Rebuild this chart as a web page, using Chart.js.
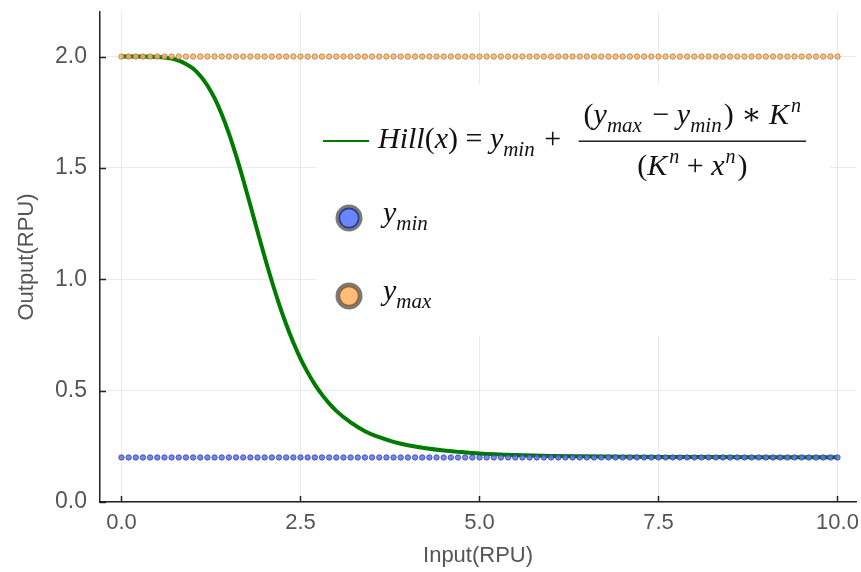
<!DOCTYPE html>
<html>
<head>
<meta charset="utf-8">
<script src="https://cdn.jsdelivr.net/npm/chart.js@4/dist/chart.umd.min.js"></script>
<style>
  html, body { margin: 0; padding: 0; background: #ffffff; }
  #wrap { width: 861px; height: 572px; }
</style>
</head>
<body>
<div id="wrap"><canvas id="c" width="861" height="572"></canvas></div>
<script>
// ---- data ----
const xDots = [0,0.1,0.2,0.3,0.4,0.5,0.6,0.7,0.8,0.9,1,1.1,1.2,1.3,1.4,1.5,1.6,1.7,1.8,1.9,2,2.1,2.2,2.3,2.4,2.5,2.6,2.7,2.8,2.9,3,3.1,3.2,3.3,3.4,3.5,3.6,3.7,3.8,3.9,4,4.1,4.2,4.3,4.4,4.5,4.6,4.7,4.8,4.9,5,5.1,5.2,5.3,5.4,5.5,5.6,5.7,5.8,5.9,6,6.1,6.2,6.3,6.4,6.5,6.6,6.7,6.8,6.9,7,7.1,7.2,7.3,7.4,7.5,7.6,7.7,7.8,7.9,8,8.1,8.2,8.3,8.4,8.5,8.6,8.7,8.8,8.9,9,9.1,9.2,9.3,9.4,9.5,9.6,9.7,9.8,9.9,10];
const yMinDots = [0.2,0.2,0.2,0.2,0.2,0.2,0.2,0.2,0.2,0.2,0.2,0.2,0.2,0.2,0.2,0.2,0.2,0.2,0.2,0.2,0.2,0.2,0.2,0.2,0.2,0.2,0.2,0.2,0.2,0.2,0.2,0.2,0.2,0.2,0.2,0.2,0.2,0.2,0.2,0.2,0.2,0.2,0.2,0.2,0.2,0.2,0.2,0.2,0.2,0.2,0.2,0.2,0.2,0.2,0.2,0.2,0.2,0.2,0.2,0.2,0.2,0.2,0.2,0.2,0.2,0.2,0.2,0.2,0.2,0.2,0.2,0.2,0.2,0.2,0.2,0.2,0.2,0.2,0.2,0.2,0.2,0.2,0.2,0.2,0.2,0.2,0.2,0.2,0.2,0.2,0.2,0.2,0.2,0.2,0.2,0.2,0.2,0.2,0.2,0.2,0.2];
const yMaxDots = [2,2,2,2,2,2,2,2,2,2,2,2,2,2,2,2,2,2,2,2,2,2,2,2,2,2,2,2,2,2,2,2,2,2,2,2,2,2,2,2,2,2,2,2,2,2,2,2,2,2,2,2,2,2,2,2,2,2,2,2,2,2,2,2,2,2,2,2,2,2,2,2,2,2,2,2,2,2,2,2,2,2,2,2,2,2,2,2,2,2,2,2,2,2,2,2,2,2,2,2,2];
const curveX = [0,0.1,0.2,0.3,0.4,0.5,0.6,0.7,0.8,0.9,1,1.1,1.2,1.3,1.4,1.5,1.6,1.7,1.8,1.9,2,2.1,2.2,2.3,2.4,2.5,2.6,2.7,2.8,2.9,3,3.2,3.4,3.6,3.8,4,4.25,4.5,4.75,5,5.5,6,7,8,9,10];
const curveY = [2.0,2.0,2.0,2.0,1.999,1.998,1.996,1.991,1.982,1.967,1.946,1.914,1.870,1.813,1.741,1.655,1.556,1.447,1.332,1.215,1.1,0.991,0.890,0.798,0.716,0.644,0.582,0.528,0.482,0.443,0.409,0.357,0.318,0.291,0.270,0.255,0.241,0.231,0.224,0.218,0.211,0.207,0.203,0.202,0.201,0.201];
const xTicks = [0, 2.5, 5, 7.5, 10];
const yTicks = [0, 0.5, 1.0, 1.5, 2.0];
const xTitle = "Input(RPU)";
const yTitle = "Output(RPU)";

// ---- styles ----
const GREEN = '#007a00';
const BLUE_FILL = 'rgba(96,118,240,0.85)';
const BLUE_EDGE = 'rgba(40,52,150,0.8)';
const ORANGE_FILL = 'rgba(250,182,105,0.85)';
const ORANGE_EDGE = 'rgba(170,110,50,0.8)';
const SERIF = '"Liberation Serif", "DejaVu Serif", serif';
const SANS = '"Liberation Sans", Arial, sans-serif';

function drawSeq(ctx, x, y, segs, measureOnly) {
  let cx = x;
  for (const s of segs) {
    const size = s.size || 30;
    ctx.font = (s.i ? 'italic ' : '') + size + 'px ' + SERIF;
    const w = ctx.measureText(s.t).width;
    if (!measureOnly) ctx.fillText(s.t, cx, y + (s.dy || 0));
    cx += w + (s.gap || 0);
  }
  return cx - x;
}

const legendPlugin = {
  id: 'mathLegend',
  beforeDatasetsDraw(chart) {
    const ctx = chart.ctx;
    ctx.save();
    ctx.fillStyle = '#ffffff';
    ctx.fillRect(316, 84, 514, 252);
    ctx.restore();
  },
  afterDatasetsDraw(chart) {
    const ctx = chart.ctx;
    ctx.save();
    ctx.fillStyle = '#111';
    ctx.textBaseline = 'alphabetic';
    ctx.textAlign = 'left';
    // line sample
    ctx.strokeStyle = GREEN;
    ctx.lineWidth = 2.2;
    ctx.beginPath(); ctx.moveTo(323, 141); ctx.lineTo(369, 141); ctx.stroke();
    const SUB = 21, SUP = 20;
    const main = [
      {t:'Hill', i:true}, {t:'('}, {t:'x', i:true}, {t:')'}, {t:' = '},
      {t:'y', i:true}, {t:'min', i:true, size:SUB, dy:8, gap:2}, {t:' + '}
    ];
    const w = drawSeq(ctx, 378, 148, main);
    const numer = [
      {t:'('}, {t:'y', i:true}, {t:'max', i:true, size:SUB, dy:8, gap:3}, {t:' \u2212 '},
      {t:'y', i:true}, {t:'min', i:true, size:SUB, dy:8, gap:2}, {t:')'}, {t:' \u2217 '},
      {t:'K', i:true, gap:2}, {t:'n', i:true, size:SUP, dy:-12}
    ];
    const denom = [
      {t:'('}, {t:'K', i:true, gap:2}, {t:'n', i:true, size:SUP, dy:-12}, {t:' + '},
      {t:'x', i:true, gap:1}, {t:'n', i:true, size:SUP, dy:-12, gap:2}, {t:')'}
    ];
    const nw = drawSeq(ctx, 0, 0, numer, true);
    const dw = drawSeq(ctx, 0, 0, denom, true);
    const barL = 378 + w + 10;
    const barW = Math.max(nw, dw) + 10;
    const cxm = barL + barW / 2;
    ctx.fillStyle = '#111';
    ctx.fillRect(barL, 140.5, barW, 1.4);
    drawSeq(ctx, cxm - nw / 2, 124, numer);
    drawSeq(ctx, cxm - dw / 2, 175, denom);
    // markers
    function marker(cx, cy, fill, edge) {
      ctx.beginPath(); ctx.arc(cx, cy, 13.5, 0, Math.PI * 2); ctx.fillStyle = '#7a7a7a'; ctx.fill();
      ctx.beginPath(); ctx.arc(cx, cy, 10.5, 0, Math.PI * 2); ctx.fillStyle = edge; ctx.fill();
      ctx.beginPath(); ctx.arc(cx, cy, 8.8, 0, Math.PI * 2); ctx.fillStyle = fill; ctx.fill();
    }
    marker(349, 218, '#6a86ff', '#2a3a8c');
    marker(349, 296, '#ffbd78', '#9a6230');
    ctx.fillStyle = '#111';
    drawSeq(ctx, 383, 222, [{t:'y', i:true}, {t:'min', i:true, size:SUB, dy:8}]);
    drawSeq(ctx, 383, 300, [{t:'y', i:true}, {t:'max', i:true, size:SUB, dy:8}]);
    ctx.restore();
  },
  afterDraw(chart) {
    const ctx = chart.ctx;
    const xs = chart.scales.x, ys = chart.scales.y;
    const a = chart.chartArea;
    ctx.save();
    ctx.strokeStyle = '#222';
    ctx.lineWidth = 1.5;
    ctx.beginPath();
    for (const v of xTicks) {
      const px = Math.round(xs.getPixelForValue(v)) + 0.5;
      ctx.moveTo(px, a.bottom); ctx.lineTo(px, a.bottom - 6);
    }
    for (const v of yTicks) {
      const py = Math.round(ys.getPixelForValue(v)) + 0.5;
      ctx.moveTo(a.left, py); ctx.lineTo(a.left + 6, py);
    }
    ctx.stroke();
    ctx.restore();
  }
};

const toPts = (xs, ys) => xs.map((x, i) => ({x: x, y: ys[i]}));

new Chart(document.getElementById('c'), {
  type: 'scatter',
  data: {
    datasets: [
      {
        label: 'y_max',
        data: toPts(xDots, yMaxDots),
        pointRadius: 2.7,
        pointBorderWidth: 0.9,
        pointBackgroundColor: ORANGE_FILL,
        pointBorderColor: ORANGE_EDGE,
        showLine: false
      },
      {
        label: 'y_min',
        data: toPts(xDots, yMinDots),
        pointRadius: 2.7,
        pointBorderWidth: 0.9,
        pointBackgroundColor: BLUE_FILL,
        pointBorderColor: BLUE_EDGE,
        showLine: false
      },
      {
        label: 'Hill(x)',
        data: toPts(curveX, curveY),
        showLine: true,
        borderColor: GREEN,
        borderWidth: 4,
        pointRadius: 0,
        cubicInterpolationMode: 'monotone',
        fill: false
      }
    ]
  },
  options: {
    responsive: false,
    animation: false,
    events: [],
    layout: { padding: { top: 12, right: 0, left: 0, bottom: 0 } },
    plugins: { legend: { display: false }, tooltip: { enabled: false } },
    scales: {
      x: {
        type: 'linear',
        min: -0.3, max: 10.26,
        afterBuildTicks: (s) => { s.ticks = xTicks.map(v => ({value: v})); },
        afterFit: (s) => { s.height = 70; s.paddingLeft = 0; s.paddingRight = 0; },
        grid: { color: 'rgba(0,0,0,0.08)', lineWidth: 1, drawTicks: false },
        border: { display: true, color: '#222', width: 1.5 },
        ticks: {
          padding: 8,
          color: '#555',
          font: { family: SANS, size: 22 },
          maxRotation: 0,
          callback: (v) => Number(v).toFixed(1)
        },
        title: {
          display: true, text: xTitle, color: '#555',
          font: { family: SANS, size: 22 },
          padding: { top: 0, bottom: 3 }
        }
      },
      y: {
        type: 'linear',
        min: 0, max: 2.2,
        afterBuildTicks: (s) => { s.ticks = yTicks.map(v => ({value: v})); },
        afterFit: (s) => { s.width = 100; s.paddingTop = 0; s.paddingBottom = 0; },
        grid: { color: 'rgba(0,0,0,0.08)', lineWidth: 1, drawTicks: false },
        border: { display: true, color: '#222', width: 1.5 },
        ticks: {
          padding: 13,
          color: '#555',
          font: { family: SANS, size: 23 },
          callback: (v) => Number(v).toFixed(1)
        },
        title: {
          display: true, text: yTitle, color: '#555',
          font: { family: SANS, size: 22 },
          padding: { top: 14, bottom: 0 }
        }
      }
    }
  },
  plugins: [legendPlugin]
});
</script>
</body>
</html>
